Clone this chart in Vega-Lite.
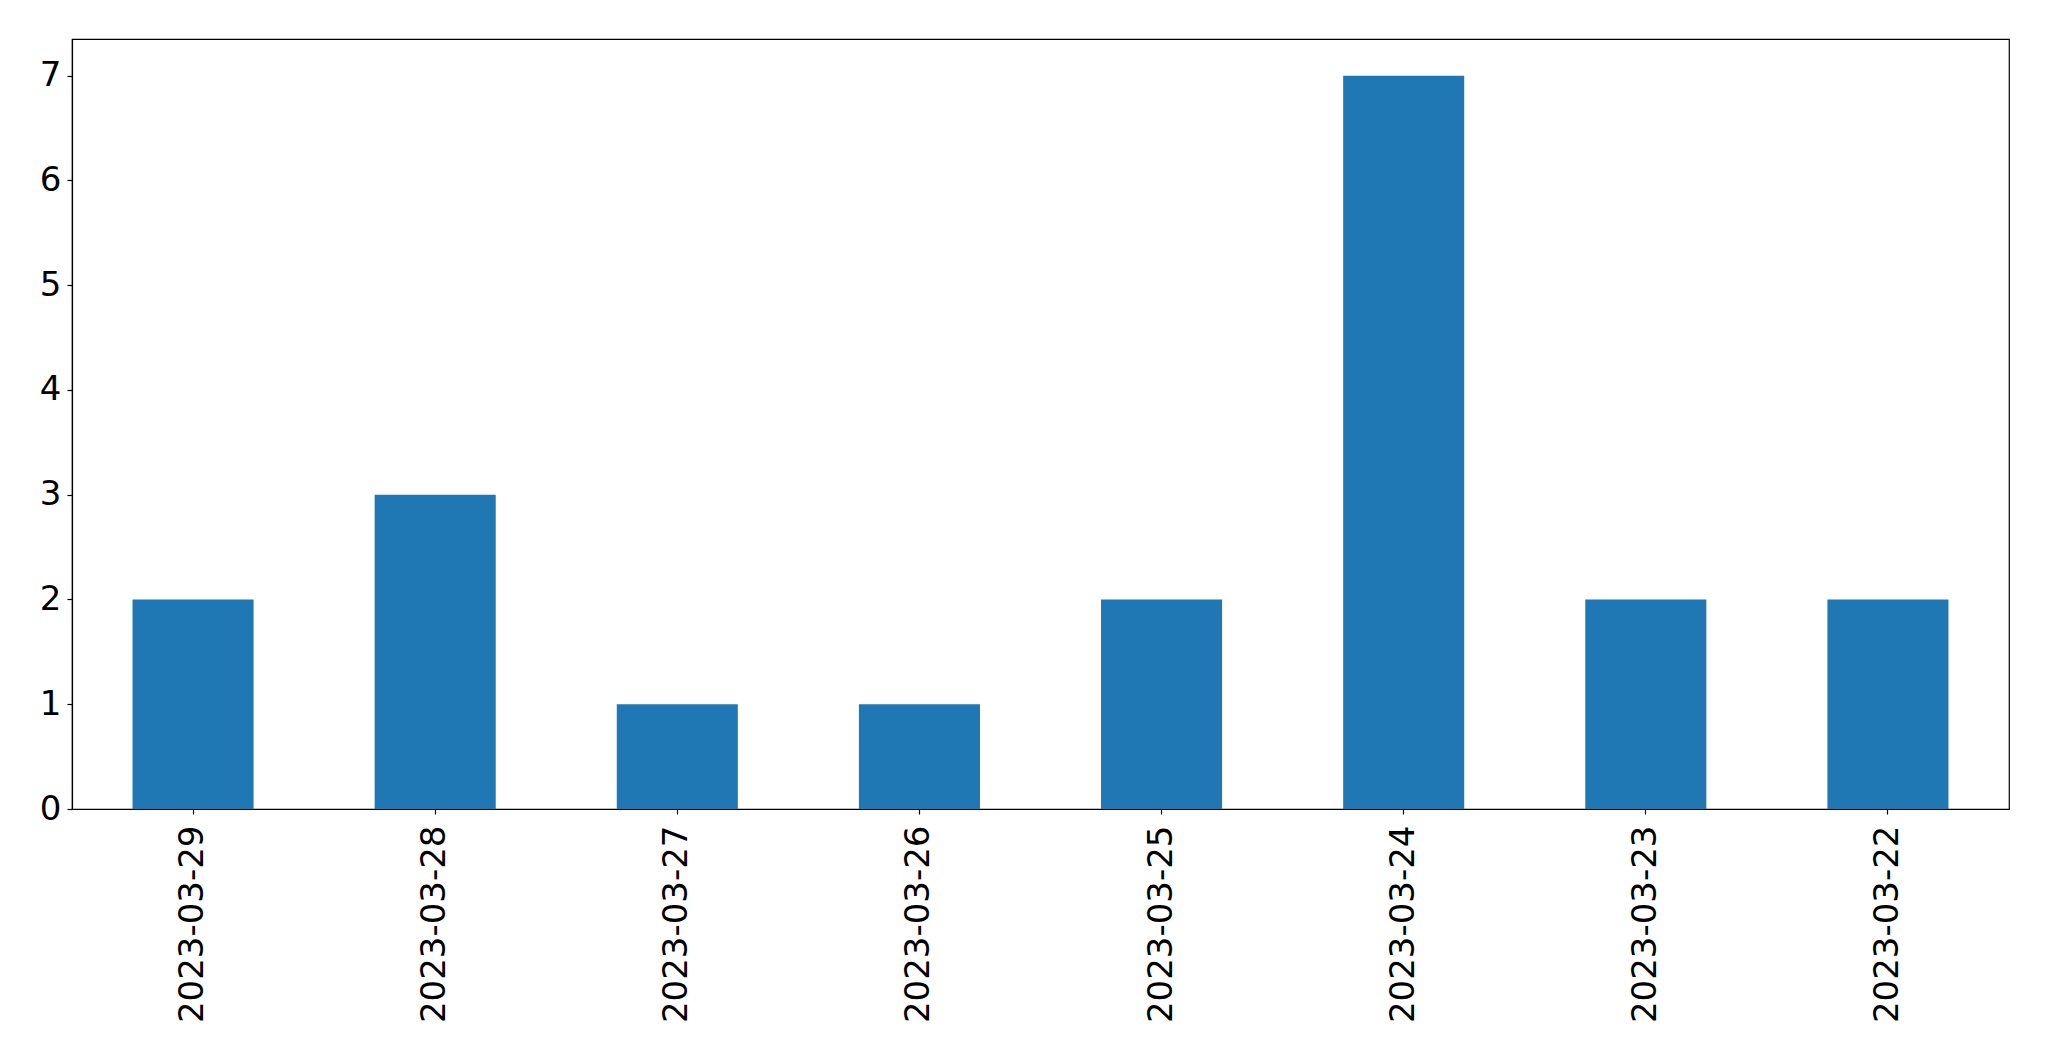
{
  "$schema": "https://vega.github.io/schema/vega-lite/v6.json",
  "autosize": {"type": "none"},
  "padding": {"left": 72, "top": 39, "right": 40, "bottom": 252},
  "width": 1937,
  "height": 770,
  "background": "white",
  "config": {
    "view": {"stroke": "black", "strokeWidth": 1.2},
    "axis": {
      "labelFont": "DejaVu Sans",
      "labelFontSize": 34,
      "labelColor": "black",
      "labelLimit": 0,
      "tickColor": "black",
      "domainColor": "black",
      "tickSize": 5,
      "tickWidth": 1.2,
      "domainWidth": 1.2,
      "grid": false,
      "title": null
    }
  },
  "data": {
    "values": [
      {"date": "2023-03-29", "count": 2},
      {"date": "2023-03-28", "count": 3},
      {"date": "2023-03-27", "count": 1},
      {"date": "2023-03-26", "count": 1},
      {"date": "2023-03-25", "count": 2},
      {"date": "2023-03-24", "count": 7},
      {"date": "2023-03-23", "count": 2},
      {"date": "2023-03-22", "count": 2}
    ]
  },
  "mark": {"type": "bar", "color": "#1f77b4"},
  "encoding": {
    "x": {
      "field": "date",
      "type": "nominal",
      "sort": null,
      "scale": {"paddingInner": 0.5, "paddingOuter": 0.25},
      "axis": {"labelAngle": 270, "labelPadding": 11, "labelAlign": "right", "labelBaseline": "middle"}
    },
    "y": {
      "field": "count",
      "type": "quantitative",
      "scale": {"domain": [0, 7.35], "nice": false},
      "axis": {"values": [0, 1, 2, 3, 4, 5, 6, 7], "labelPadding": 6}
    }
  }
}
